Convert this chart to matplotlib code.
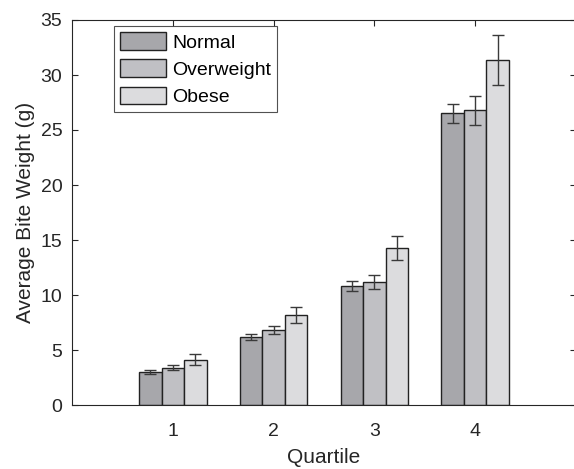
import numpy as np
import matplotlib.pyplot as plt

plt.rcParams['font.family'] = ['Liberation Sans', 'DejaVu Sans']

# data
quartiles = [1, 2, 3, 4]
groups = ['Normal', 'Overweight', 'Obese']
normal = [3.0, 6.2, 10.8, 26.5]
overweight = [3.4, 6.8, 11.2, 26.8]
obese = [4.1, 8.2, 14.25, 31.4]
normal_err = [0.15, 0.25, 0.43, 0.9]
overweight_err = [0.25, 0.35, 0.64, 1.33]
obese_err = [0.5, 0.7, 1.1, 2.27]
colors = ['#a7a7ab', '#c0c0c4', '#dcdcde']

fig = plt.figure(figsize=(5.74, 4.69), dpi=100)
ax = fig.add_axes([72/574, 64/469, 504/574, 385/469])

x = np.array(quartiles)
w = 0.224
vals = [normal, overweight, obese]
errs = [normal_err, overweight_err, obese_err]
for i in range(3):
    ax.bar(x + (i - 1) * w, vals[i], w, color=colors[i], edgecolor='#222222',
           linewidth=1.0, label=groups[i], zorder=2)
    ax.errorbar(x + (i - 1) * w, vals[i], yerr=errs[i], fmt='none',
                ecolor='#3a3a3a', elinewidth=1.0, capsize=4, capthick=1.0, zorder=3)

ax.set_xlim(0, 5)
ax.set_ylim(0, 35)
ax.set_xticks(quartiles)
ax.set_yticks(range(0, 36, 5))
ax.tick_params(direction='in', top=True, right=True, labelsize=14,
               colors='#262626', length=4, width=0.8)
ax.tick_params(axis='x', pad=13)
ax.tick_params(axis='y', pad=7)
for s in ax.spines.values():
    s.set_color('#262626')
    s.set_linewidth(0.8)
ax.set_xlabel('Quartile', fontsize=15, color='#262626', labelpad=6)
ax.set_ylabel('Average Bite Weight (g)', fontsize=15, color='#262626', labelpad=4)

leg = ax.legend(loc='upper left', bbox_to_anchor=(0.083, 0.984), fontsize=14,
                frameon=True, fancybox=False, edgecolor='#262626',
                handlelength=2.4, handleheight=1.03, handletextpad=0.3,
                labelspacing=0.4, borderpad=0.3, borderaxespad=0)
leg.get_frame().set_linewidth(0.8)

fig.savefig('out.png', dpi=100)
